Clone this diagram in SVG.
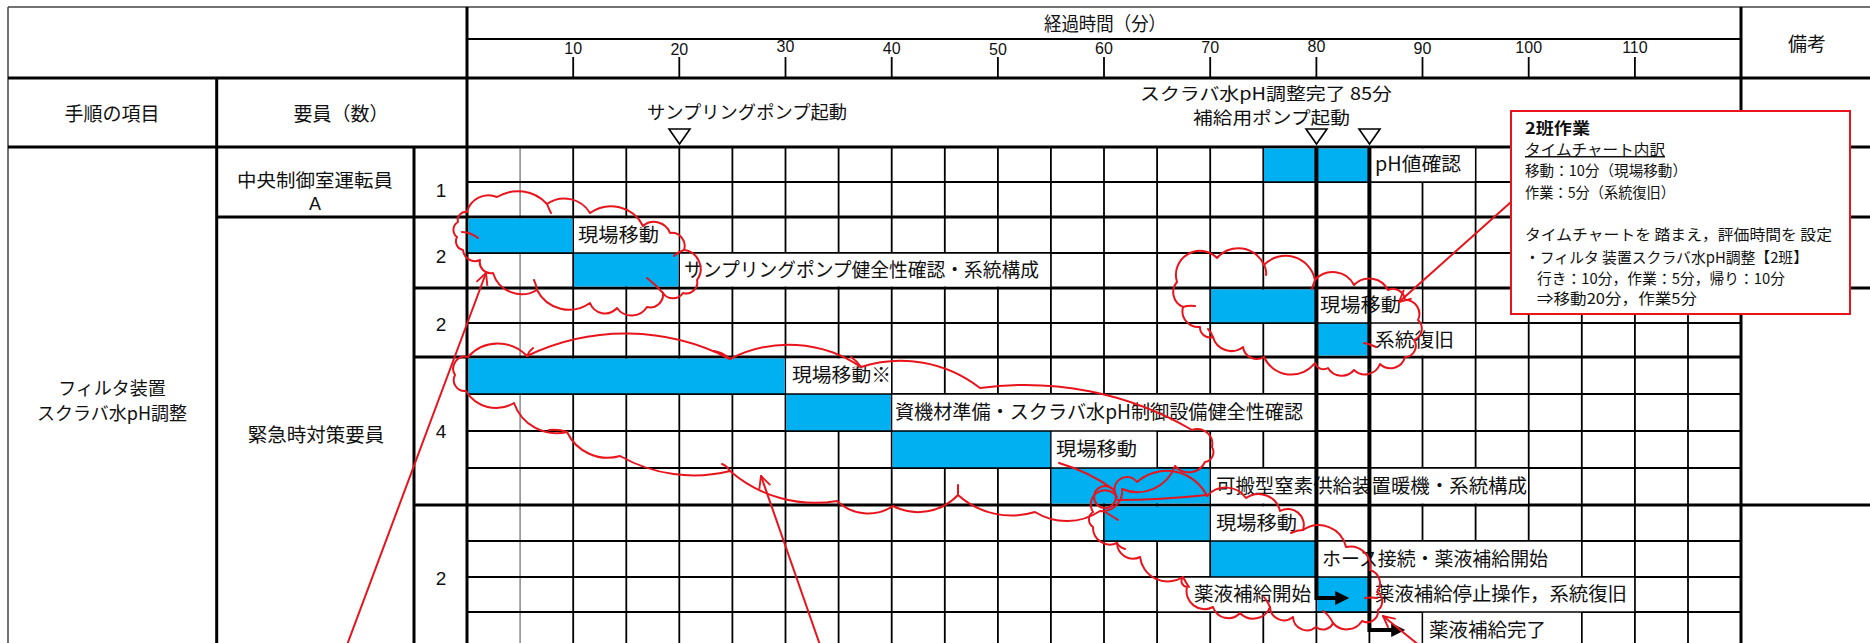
<svg xmlns="http://www.w3.org/2000/svg" width="1870" height="643" viewBox="0 0 1870 643">
<defs>
<style>
.cjk{font-family:"Noto Sans CJK JP","Noto Sans",sans-serif;fill:#111}
.hd{font-size:18px}
.lb{font-size:19.5px}
.bx{font-size:15px}
.num{font-family:"Liberation Sans",Arial,sans-serif;fill:#111}
.bar{fill:#00B0F0}
.wb{fill:#fff}
.thin{stroke:#000;stroke-width:1.8;fill:none}
.thick{stroke:#000;stroke-width:3;fill:none}
.bold{stroke:#000;stroke-width:4;fill:none}
.red{stroke:#E8141C;stroke-width:2;fill:none;stroke-linecap:round;stroke-linejoin:round}
.tri{fill:#fff;stroke:#000;stroke-width:1.6}
</style>
<marker id="redHead" viewBox="0 0 12 12" refX="11" refY="6" markerWidth="14" markerHeight="14" markerUnits="userSpaceOnUse" orient="auto">
<path d="M1 1 L11 6 L1 11" fill="none" stroke="#E8141C" stroke-width="1.6"/>
</marker>
<marker id="blackHead" viewBox="0 0 10 10" refX="2" refY="5" markerWidth="16" markerHeight="14" markerUnits="userSpaceOnUse" orient="auto">
<path d="M0 0 L10 5 L0 10 Z" fill="#000"/>
</marker>
</defs>
<rect width="1870" height="643" fill="#fff"/>

<g id="table-grid">
<path d="M520.1 147V643" stroke="#888" stroke-width="1.5" fill="none"/>
<path class="thin" d="M573.2 147V643 M626.3 147V643 M679.3 147V643 M732.4 147V643 M785.5 147V643 M838.6 147V643 M891.7 147V643 M944.8 147V643 M997.9 147V643 M1050.9 147V643 M1104 147V643 M1157.1 147V643 M1210.2 147V643 M1263.3 147V643 M1316.4 147V643 M1369.4 147V643 M1422.5 147V643 M1475.6 147V643 M1528.7 147V643 M1581.8 147V643 M1634.9 147V643 M1688 147V643"/>
<path class="thin" d="M467 182H1741 M467 253H1741 M467 323H1741 M467 394H1741 M467 431H1741 M467 468H1741 M467 541H1741 M467 577H1741 M467 612H1741"/>
<path class="thin" d="M573.2 57V78 M679.3 57V78 M785.5 57V78 M891.7 57V78 M997.9 57V78 M1104 57V78 M1210.2 57V78 M1316.4 57V78 M1422.5 57V78 M1528.7 57V78 M1634.9 57V78"/>
<path d="M8 7H1870 M8 7V643" stroke="#444" stroke-width="1.5" fill="none"/>
<path d="M467 39H1741" stroke="#000" stroke-width="2" fill="none"/>
<path class="thick" d="M8 78H1870 M8 147H1870 M467 7V643 M1741 7V643 M216.7 78V643 M414 147V643 M216.7 217H1870 M414 288H1870 M414 357H1741 M414 505H1870"/>
</g>

<g id="header">
<text class="cjk" font-size="19" x="1105" y="31" text-anchor="middle" textLength="122" lengthAdjust="spacingAndGlyphs">経過時間（分）</text>
<g class="num" font-size="16" text-anchor="middle">
<text x="573.2" y="54">10</text><text x="679.3" y="55">20</text><text x="785.5" y="52">30</text><text x="891.7" y="54">40</text><text x="997.9" y="55">50</text><text x="1104" y="54">60</text><text x="1210.2" y="53">70</text><text x="1316.4" y="52">80</text><text x="1422.5" y="54">90</text><text x="1528.7" y="53">100</text><text x="1634.9" y="53">110</text>
</g>
<text class="cjk" font-size="19" x="1807" y="51" text-anchor="middle">備考</text>
<text class="cjk" font-size="19" x="112" y="121" text-anchor="middle">手順の項目</text>
<text class="cjk" font-size="19" x="341" y="121" text-anchor="middle">要員（数）</text>
</g>

<g id="milestones">
<text class="cjk" font-size="18" x="647" y="119" textLength="200" lengthAdjust="spacingAndGlyphs">サンプリングポンプ起動</text>
<polygon class="tri" points="669,129 690,129 679.5,144"/>
<text class="cjk" font-size="17.5" x="1140" y="100" textLength="252" lengthAdjust="spacingAndGlyphs">スクラバ水pH調整完了 85分</text>
<text class="cjk" font-size="17.5" x="1193" y="124" textLength="157" lengthAdjust="spacingAndGlyphs">補給用ポンプ起動</text>
<polygon class="tri" points="1306,129 1327,129 1316.5,144"/>
<polygon class="tri" points="1359,129 1380,129 1369.5,144"/>
</g>

<g id="row-labels">
<text class="cjk hd" x="112" y="395" text-anchor="middle">フィルタ装置</text>
<text class="cjk hd" x="112" y="420" text-anchor="middle">スクラバ水pH調整</text>
<text class="cjk" font-size="18.5" x="315" y="187" text-anchor="middle" textLength="156" lengthAdjust="spacingAndGlyphs">中央制御室運転員</text>
<text class="num" font-size="18" x="315" y="210" text-anchor="middle">A</text>
<text class="cjk lb" x="316" y="442" text-anchor="middle">緊急時対策要員</text>
<g class="num" font-size="19" text-anchor="middle">
<text x="441" y="197">1</text><text x="441" y="263">2</text><text x="441" y="331">2</text><text x="441" y="438">4</text><text x="441" y="585">2</text>
</g>
</g>

<g id="bars">
<rect class="bar" x="1264" y="148.5" width="104.6" height="32.8"/>
<rect class="bar" x="468.5" y="218.5" width="104" height="33.75"/>
<rect class="bar" x="574" y="253.75" width="104.5" height="32.75"/>
<rect class="bar" x="1211" y="289.5" width="104.5" height="32.75"/>
<rect class="bar" x="1317" y="323.75" width="51.5" height="31.75"/>
<rect class="bar" x="468.5" y="358.5" width="316.25" height="34.75"/>
<rect class="bar" x="786.25" y="394.75" width="104.7" height="35.5"/>
<rect class="bar" x="892.5" y="431.75" width="157.7" height="35.5"/>
<rect class="bar" x="1051.7" y="468.75" width="157.8" height="34.75"/>
<rect class="bar" x="1104.75" y="506.5" width="104.7" height="33.75"/>
<rect class="bar" x="1211" y="541.75" width="104.6" height="34.5"/>
<rect class="bar" x="1317.2" y="577.75" width="51.5" height="33.5"/>
</g>

<g id="task-labels">
<rect class="wb" x="1371.4" y="148.5" width="103.4" height="32.75"/>
<rect class="wb" x="574" y="218.5" width="104.5" height="33.75"/>
<rect class="wb" x="680" y="253.75" width="370.1" height="32.75"/>
<rect class="wb" x="1318.4" y="289.5" width="103.3" height="32.75"/>
<rect class="wb" x="1371.4" y="323.75" width="103.4" height="31.75"/>
<rect class="wb" x="786.25" y="358.5" width="104.65" height="34.75"/>
<rect class="wb" x="892.5" y="394.75" width="421.9" height="35.5"/>
<rect class="wb" x="1051.7" y="431.75" width="104.6" height="35.5"/>
<rect class="wb" x="1211" y="468.75" width="316.9" height="34.75"/>
<rect class="wb" x="1211" y="506.5" width="103.4" height="33.75"/>
<rect class="wb" x="1318.4" y="541.75" width="262.6" height="34.5"/>
<rect class="wb" x="1371.4" y="577.75" width="262.7" height="33.5"/>
<rect class="wb" x="1157.9" y="577.75" width="156.5" height="33.5"/>
<rect class="wb" x="1423.3" y="612.75" width="157.7" height="31"/>
<text class="cjk lb" x="1375" y="171" textLength="86" lengthAdjust="spacingAndGlyphs">pH値確認</text>
<text class="cjk lb" x="578" y="242" textLength="81" lengthAdjust="spacingAndGlyphs">現場移動</text>
<text class="cjk lb" x="684" y="277" textLength="355" lengthAdjust="spacingAndGlyphs">サンプリングポンプ健全性確認・系統構成</text>
<text class="cjk lb" x="1320" y="312" textLength="81" lengthAdjust="spacingAndGlyphs">現場移動</text>
<text class="cjk lb" x="1375" y="347" textLength="79" lengthAdjust="spacingAndGlyphs">系統復旧</text>
<text class="cjk lb" x="792" y="382" textLength="99" lengthAdjust="spacingAndGlyphs">現場移動※</text>
<text class="cjk lb" x="895" y="419" textLength="408" lengthAdjust="spacingAndGlyphs">資機材準備・スクラバ水pH制御設備健全性確認</text>
<text class="cjk lb" x="1056" y="456" textLength="81" lengthAdjust="spacingAndGlyphs">現場移動</text>
<text class="cjk lb" x="1216" y="493" textLength="311" lengthAdjust="spacingAndGlyphs">可搬型窒素供給装置暖機・系統構成</text>
<text class="cjk lb" x="1216" y="530" textLength="81" lengthAdjust="spacingAndGlyphs">現場移動</text>
<text class="cjk lb" x="1322" y="566" textLength="226" lengthAdjust="spacingAndGlyphs">ホース接続・薬液補給開始</text>
<text class="cjk lb" x="1375" y="601" textLength="252" lengthAdjust="spacingAndGlyphs">薬液補給停止操作，系統復旧</text>
<text class="cjk lb" x="1194" y="601" textLength="117" lengthAdjust="spacingAndGlyphs">薬液補給開始</text>
<text class="cjk lb" x="1429" y="637" textLength="117" lengthAdjust="spacingAndGlyphs">薬液補給完了</text>
</g>

<g id="connectors">
<path class="bold" d="M1316.4 146V598H1338" marker-end="url(#blackHead)"/>
<path class="bold" d="M1369.4 146V630H1394" marker-end="url(#blackHead)"/>
<path class="red" d="M347 645L486 273" marker-end="url(#redHead)"/>
<path class="red" d="M820 645L761 476" marker-end="url(#redHead)"/>
<path class="red" d="M1511 202L1399 302" marker-end="url(#redHead)"/>
<path class="red" d="M1420 646L1383 616" marker-end="url(#redHead)"/>
</g>

<g id="cloud-1">
<path class="red" d="M458,222 A8,8 0 0 1 467,212 A22,22 0 0 1 497,197 A40,40 0 0 1 547,204 A30,30 0 0 1 590,213 A36,36 0 0 1 643,226 A17,17 0 0 1 670,233 A13,13 0 0 1 684,250 A19,19 0 0 1 697,280 A11,11 0 0 1 683,293 A12,12 0 0 1 663,293 A13,13 0 0 1 647,307 A18,18 0 0 1 617,308 A16,16 0 0 1 590,303 A36,36 0 0 1 537,290 A30,30 0 0 1 493,273 A11,11 0 0 1 480,260 A12,12 0 0 1 463,250 A9,9 0 0 1 457,237 A9,9 0 0 1 458,222 Z"/>
<path class="red" d="M547,204 q2,5 4,9 M478,238 Q470,232 462,232 M663,293 Q655,284 647,278 M537,290 q-1,-6 -3,-10 M684,250 q-6,2 -10,6"/>
</g>

<g id="cloud-2">
<path class="red" d="M1177,282 A24,24 0 0 1 1217,258 A28,28 0 0 1 1264,265 A30,30 0 0 1 1315,280 A24,24 0 0 1 1354,285 A21,21 0 0 1 1388,290 A12,12 0 0 1 1405,300 A14,14 0 0 1 1418,320 A12,12 0 0 1 1414,340 A11,11 0 0 1 1405,357 A15,15 0 0 1 1380,364 A16,16 0 0 1 1354,370 A16,16 0 0 1 1328,368 A9,9 0 0 1 1315,363 A30,30 0 0 1 1264,357 A14,14 0 0 1 1243,347 A19,19 0 0 1 1213,337 A10,10 0 0 1 1200,327 A16,16 0 0 1 1183,307 A16,16 0 0 1 1177,282 Z"/>
<path class="red" d="M1264,265 q3,5 2,10 M1315,280 q-2,5 -3,9 M1364,343 Q1370,344 1376,347 M1213,337 q-2,-5 -5,-8 M1183,307 q6,-2 12,-1"/>
</g>

<g id="cloud-3">
<path class="red" d="M455,375 A12,12 0 0 1 468,357 A40,40 0 0 1 527,356 A227,227 0 0 1 730,359 A128,128 0 0 1 861,367 A129,129 0 0 1 980,388 A333,333 0 0 1 1192,430 A15,15 0 0 1 1212,447 A10,10 0 0 1 1205,462 A18,18 0 0 1 1175,466 A40,40 0 0 1 1122,489 A20,20 0 0 1 1100,511 A60,60 0 0 1 1035,512 A80,80 0 0 1 958,495 A55,55 0 0 1 893,506 A45,45 0 0 1 837,501 A130,130 0 0 1 730,471 A150,150 0 0 1 620,456 A45,45 0 0 1 567,432 A45,45 0 0 1 514,403 A35,35 0 0 1 466,391 A11,11 0 0 1 455,375 Z"/>
<path class="red" d="M730,359 Q722,352 714,351 M861,367 q-4,-6 -10,-10 M730,471 q-3,-5 -8,-7 M958,495 q0,-6 0,-10 M567,432 q-8,-3 -18,-2 M527,356 q2,-5 6,-8"/>
<circle class="red" cx="1105" cy="497" r="11"/>
</g>

<g id="cloud-4">
<path class="red" d="M1093,512 A14,14 0 0 1 1117,497 A12,12 0 0 1 1137,482 A45,45 0 0 1 1207,496 A25,25 0 0 1 1246,498 A22,22 0 0 1 1280,511 A16,16 0 0 1 1303,530 A28,28 0 0 1 1346,547 A20,20 0 0 1 1370,570 A14,14 0 0 1 1377,592 A11,11 0 0 1 1378,610 A11,11 0 0 1 1362,621 A18,18 0 0 1 1333,623 A11,11 0 0 1 1316,627 A14,14 0 0 1 1293,617 A14,14 0 0 1 1270,607 A18,18 0 0 1 1240,613 A16,16 0 0 1 1213,607 A18,18 0 0 1 1187,587 A6,6 0 0 1 1183,577 A28,28 0 0 1 1140,557 A16,16 0 0 1 1117,543 A17,17 0 0 1 1093,527 A9,9 0 0 1 1093,512 Z"/>
<path class="red" d="M1117,500 Q1160,500 1207,495 M1059,463 Q1090,472 1114,490 M1105,512 Q1112,516 1118,520 M1117,543 q2,4 8,6 M1183,577 q3,6 6,10 M1270,607 q-2,-5 -6,-10 M1333,623 q-4,-8 -10,-12 M1365,598 q6,-1 12,0 M1303,530 q-6,0 -12,3"/>
</g>

<g id="note-box">
<rect x="1511" y="111" width="339" height="203" fill="#fff" stroke="#E8141C" stroke-width="2"/>
<text class="cjk" x="1525" y="134" font-size="16" font-weight="bold" textLength="65" lengthAdjust="spacingAndGlyphs">2班作業</text>
<text class="cjk bx" x="1525" y="155" textLength="140" lengthAdjust="spacingAndGlyphs" text-decoration="underline">タイムチャート内訳</text>
<text class="cjk bx" x="1525" y="176" textLength="162" lengthAdjust="spacingAndGlyphs">移動：10分（現場移動）</text>
<text class="cjk bx" x="1525" y="198" textLength="150" lengthAdjust="spacingAndGlyphs">作業：5分（系統復旧）</text>
<text class="cjk bx" x="1525" y="240" textLength="307" lengthAdjust="spacingAndGlyphs">タイムチャートを 踏まえ，評価時間を 設定</text>
<text class="cjk bx" x="1525" y="263" textLength="283" lengthAdjust="spacingAndGlyphs">・フィルタ 装置スクラバ水pH調整【2班】</text>
<text class="cjk bx" x="1537" y="284" textLength="248" lengthAdjust="spacingAndGlyphs">行き：10分，作業：5分，帰り：10分</text>
<text class="cjk bx" x="1537" y="304" textLength="160" lengthAdjust="spacingAndGlyphs">⇒移動20分，作業5分</text>
</g>
</svg>
